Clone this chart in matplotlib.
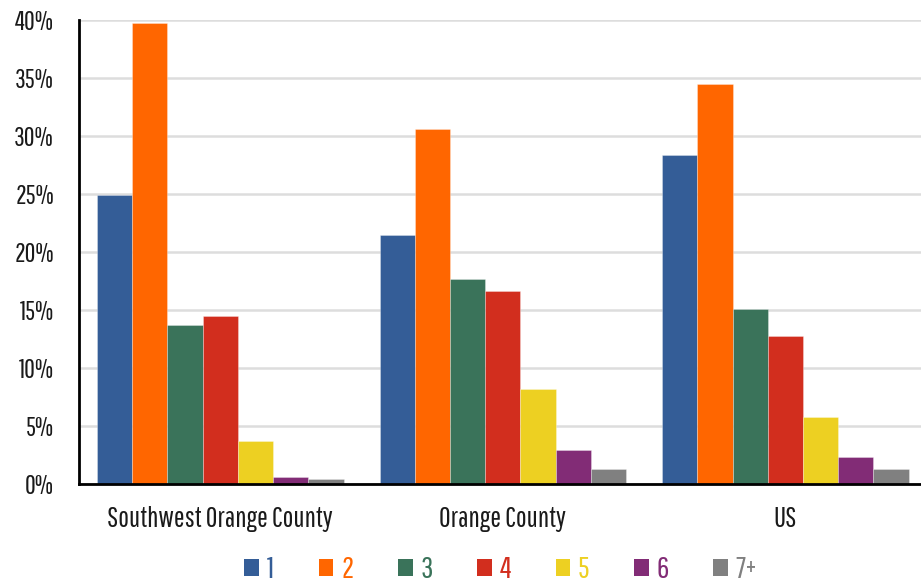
import matplotlib
matplotlib.use("Agg")
import matplotlib.pyplot as plt
import numpy as np
from matplotlib.patches import Patch

plt.rcParams['font.family'] = ['Pathway Gothic One', 'Roboto Condensed', 'DejaVu Sans']

regions = ["Southwest Orange County", "Orange County", "US"]
sizes = ["1", "2", "3", "4", "5", "6", "7+"]
share_1 = [24.9, 21.5, 28.4]
share_2 = [39.7, 30.6, 34.5]
share_3 = [13.7, 17.7, 15.1]
share_4 = [14.5, 16.6, 12.8]
share_5 = [3.7, 8.2, 5.8]
share_6 = [0.6, 2.9, 2.3]
share_7 = [0.4, 1.3, 1.3]
series = [share_1, share_2, share_3, share_4, share_5, share_6, share_7]
colors = ["#345D97", "#FF6600", "#3A735A", "#D22E1E", "#EDD022", "#822C76", "#808080"]

fig = plt.figure(figsize=(9.21, 5.86), dpi=100)
ax = fig.add_axes([0.0858, 0.174, 0.9142, 0.792])

x = np.arange(len(regions))
w = 0.1246
for i, (vals, c) in enumerate(zip(series, colors)):
    ax.bar(x + (i - 3) * w, vals, width=w, color=c, edgecolor=(1, 1, 1, 0.35),
           linewidth=0.6, zorder=3)

ax.set_xlim(-0.5, 2.48)
ax.set_ylim(0, 40)
ax.set_yticks(np.arange(0, 41, 5))
ax.set_yticklabels([f"{v}%" for v in range(0, 41, 5)], fontsize=19, color="#1a1a1a")
ax.set_xticks(x)
ax.set_xticklabels(regions, fontsize=20.5, color="#1a1a1a")
ax.tick_params(axis='both', length=0)
ax.tick_params(axis='y', pad=18)
ax.tick_params(axis='x', pad=16)
ax.grid(axis='y', color="#DDDDDD", linewidth=1.8, zorder=0)
for s in ("top", "right"):
    ax.spines[s].set_visible(False)
for s in ("left", "bottom"):
    ax.spines[s].set_linewidth(2)
    ax.spines[s].set_color("black")
    ax.spines[s].set_zorder(4)

handles = [Patch(facecolor=c, edgecolor='none') for c in colors]
leg = fig.legend(handles, sizes, loc="center", bbox_to_anchor=(0.544, 0.028),
                 ncol=7, frameon=False, fontsize=22, handlelength=0.49, handleheight=0.49,
                 handletextpad=0.25, columnspacing=1.45, labelcolor=colors,
                 borderpad=0.1)

fig.savefig("out.png", dpi=100)
